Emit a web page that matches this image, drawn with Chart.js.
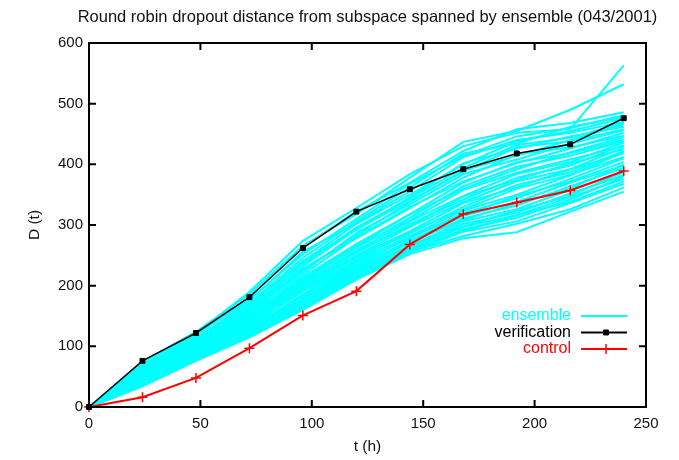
<!DOCTYPE html>
<html>
<head>
<meta charset="utf-8">
<script src="https://cdn.jsdelivr.net/npm/chart.js@4.4.1/dist/chart.umd.min.js"></script>
<style>
  html, body { margin: 0; padding: 0; background: #fff; }
  #wrap { width: 679px; height: 460px; position: relative; }
</style>
</head>
<body>
<div id="wrap"><canvas id="grafico"></canvas></div>
<script>
// hours of each forecast step
const horas = [0, 24, 48, 72, 96, 120, 144, 168, 192, 216, 240];

const verificacao = [0, 76, 122, 181, 262, 322, 359, 392, 418, 433, 476];
const controle = [0, 16, 48, 97, 151, 191, 268, 318, 337, 357, 389];

// ensemble members
const membros = [
  [0, 71, 121, 190, 274, 328, 384, 430, 452, 458, 563],
  [0, 75, 124, 186, 266, 318, 378, 437, 455, 490, 532],
  [0, 68, 117, 181, 264, 322, 370, 422, 458, 468, 486],
  [0, 66, 119, 177, 252, 310, 368, 414, 446, 460, 481],
  [0, 64, 112, 175, 256, 303, 356, 412, 440, 452, 470],
  [0, 62, 110, 168, 240, 302, 350, 400, 438, 455, 476],
  [0, 61, 107, 167, 241, 292, 346, 402, 426, 446, 462],
  [0, 58, 105, 160, 232, 293, 340, 388, 428, 438, 458],
  [0, 60, 103, 159, 226, 283, 338, 390, 414, 440, 466],
  [0, 56, 103, 154, 228, 278, 328, 378, 416, 428, 447],
  [0, 55, 99, 153, 218, 280, 330, 372, 402, 426, 452],
  [0, 54, 98, 150, 214, 269, 318, 370, 404, 418, 441],
  [0, 52, 97, 145, 213, 266, 317, 360, 392, 420, 445],
  [0, 53, 94, 144, 207, 265, 308, 358, 386, 408, 430],
  [0, 50, 92, 141, 205, 258, 306, 348, 384, 404, 436],
  [0, 48, 92, 137, 198, 257, 298, 347, 374, 402, 425],
  [0, 49, 89, 136, 199, 250, 297, 338, 372, 392, 428],
  [0, 46, 88, 133, 192, 249, 290, 336, 362, 392, 418],
  [0, 45, 86, 133, 191, 242, 289, 326, 360, 383, 412],
  [0, 44, 86, 129, 186, 241, 282, 324, 350, 382, 420],
  [0, 42, 84, 129, 185, 234, 281, 316, 348, 372, 404],
  [0, 43, 82, 125, 180, 233, 274, 315, 338, 370, 398],
  [0, 41, 83, 124, 179, 227, 273, 308, 336, 360, 400],
  [0, 39, 80, 122, 174, 226, 266, 306, 326, 358, 386],
  [0, 40, 80, 120, 173, 221, 266, 298, 324, 348, 388],
  [0, 37, 79, 118, 168, 220, 261, 297, 316, 346, 376],
  [0, 38, 78, 119, 167, 215, 260, 290, 316, 338, 372],
  [0, 36, 77, 116, 163, 214, 255, 289, 306, 336, 368],
  [0, 35, 78, 117, 162, 211, 256, 282, 302, 326, 362],
  [0, 34, 76, 115, 160, 210, 252, 278, 288, 322, 355],
  [0, 65, 114, 171, 246, 306, 362, 418, 434, 462, 478],
  [0, 59, 108, 163, 236, 296, 344, 394, 432, 444, 468],
  [0, 57, 101, 157, 222, 287, 334, 384, 408, 434, 456],
  [0, 51, 96, 147, 210, 262, 312, 364, 396, 414, 438],
  [0, 47, 90, 139, 202, 254, 302, 342, 378, 398, 432],
  [0, 44, 87, 131, 195, 246, 286, 330, 366, 387, 422],
  [0, 42, 85, 127, 183, 238, 278, 320, 344, 376, 410],
  [0, 40, 81, 123, 176, 230, 270, 311, 332, 364, 394],
  [0, 38, 80, 121, 171, 224, 264, 302, 320, 352, 382],
  [0, 36, 77, 118, 165, 217, 258, 293, 312, 342, 380]
];

const titulo = 'Round robin dropout distance from subspace spanned by ensemble (043/2001)';
const fonte = '"Liberation Sans", Arial, sans-serif';

function pontos(valores) {
  return horas.map((h, i) => ({ x: h, y: valores[i] }));
}

const datasets = [
  {
    label: 'verification',
    data: pontos(verificacao),
    borderColor: '#000',
    backgroundColor: '#000',
    borderWidth: 1.5,
    pointStyle: 'rect',
    pointRadius: 3.5,
    pointBorderWidth: 1,
    clip: false,
    order: 0,
  },
  {
    label: 'control',
    data: pontos(controle),
    borderColor: '#ff0000',
    backgroundColor: '#ff0000',
    borderWidth: 2,
    pointStyle: 'cross',
    pointRadius: 5,
    pointBorderWidth: 1.5,
    clip: false,
    order: 1,
  },
];

membros.forEach((m, i) => {
  datasets.push({
    label: i === 0 ? 'ensemble' : '',
    data: pontos(m),
    borderColor: '#00ffff',
    borderWidth: 2,
    pointRadius: 0,
    order: 2,
  });
});

// box, inward ticks, title and the legend like gnuplot
const gnuplotStyle = {
  id: 'gnuplotStyle',
  afterDatasetsDraw(chart) {
    const { ctx, chartArea: a, scales } = chart;
    ctx.save();
    ctx.strokeStyle = '#000';
    ctx.lineWidth = 2;
    ctx.strokeRect(a.left, a.top, a.right - a.left, a.bottom - a.top);

    const tl = 7;
    ctx.beginPath();
    scales.x.ticks.forEach(t => {
      const px = scales.x.getPixelForValue(t.value);
      ctx.moveTo(px, a.bottom); ctx.lineTo(px, a.bottom - tl);
      ctx.moveTo(px, a.top); ctx.lineTo(px, a.top + tl);
    });
    scales.y.ticks.forEach(t => {
      const py = scales.y.getPixelForValue(t.value);
      ctx.moveTo(a.left, py); ctx.lineTo(a.left + tl, py);
      ctx.moveTo(a.right, py); ctx.lineTo(a.right - tl, py);
    });
    ctx.stroke();

    // title
    ctx.fillStyle = '#111';
    ctx.font = '16.5px ' + fonte;
    ctx.textAlign = 'center';
    ctx.textBaseline = 'middle';
    ctx.fillText(titulo, (a.left + a.right) / 2, 17);

    // legend
    const itens = [
      { ds: chart.data.datasets[2], cor: '#00ffff' },
      { ds: chart.data.datasets[0], cor: '#000' },
      { ds: chart.data.datasets[1], cor: '#ff0000' },
    ];
    const xTexto = 571, x0 = 581, x1 = 627;
    let y = 316;
    ctx.font = '16px ' + fonte;
    itens.forEach(it => {
      ctx.fillStyle = it.cor;
      ctx.textAlign = 'right';
      ctx.fillText(it.ds.label, xTexto, y);
      ctx.strokeStyle = it.cor;
      ctx.lineWidth = 2;
      ctx.beginPath();
      ctx.moveTo(x0, y); ctx.lineTo(x1, y);
      ctx.stroke();
      if (it.ds.pointRadius > 0) {
        ctx.lineWidth = it.ds.pointBorderWidth;
        ctx.fillStyle = it.cor;
        Chart.helpers.drawPoint(ctx, {
          pointStyle: it.ds.pointStyle,
          radius: it.ds.pointRadius,
          borderWidth: it.ds.pointBorderWidth,
          rotation: 0,
        }, (x0 + x1) / 2 + 2, y);
      }
      y += 16.5;
    });
    ctx.restore();
  }
};

const ctx = document.getElementById('grafico').getContext('2d');

new Chart(ctx, {
  type: 'line',
  data: { datasets },
  plugins: [gnuplotStyle],
  options: {
    responsive: true,
    maintainAspectRatio: false,
    animation: false,
    events: [],
    layout: { padding: { top: 43, right: 33, left: 0, bottom: 0 } },
    scales: {
      x: {
        type: 'linear',
        min: 0,
        max: 250,
        afterFit(s) { s.height = 53; },
        ticks: { stepSize: 50, color: '#111', padding: 8, font: { family: fonte, size: 15 } },
        grid: { display: false, drawTicks: false },
        border: { display: false },
        title: { display: true, text: 't (h)', color: '#111', font: { family: fonte, size: 15.5 }, padding: { top: 0, bottom: 4 } },
      },
      y: {
        min: 0,
        max: 600,
        afterFit(s) { s.width = 89; },
        ticks: { stepSize: 100, color: '#111', padding: 6, font: { family: fonte, size: 15 } },
        grid: { display: false, drawTicks: false },
        border: { display: false },
        title: { display: true, text: 'D (t)', color: '#111', font: { family: fonte, size: 15.5 }, padding: { top: 25, bottom: 0 } },
      },
    },
    plugins: {
      legend: { display: false },
      tooltip: { enabled: false },
    },
  },
});
</script>
</body>
</html>
